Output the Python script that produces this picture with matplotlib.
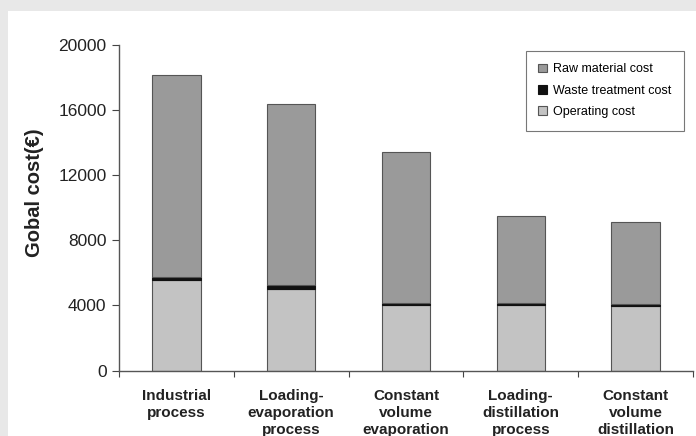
import matplotlib
matplotlib.use('Agg')
import matplotlib.pyplot as plt
from matplotlib.patches import Rectangle
import numpy as np

# Cost breakdown per process (EUR)
processes = ['Industrial\nprocess', 'Loading-\nevaporation\nprocess', 'Constant\nvolume\nevaporation',
             'Loading-\ndistillation\nprocess', 'Constant\nvolume\ndistillation']
operating_cost = [5550, 5000, 4000, 4050, 3970]
waste_cost = [200, 230, 160, 120, 110]
raw_material_cost = [12380, 11160, 9280, 5330, 5070]
y_ticks = [0, 4000, 8000, 12000, 16000, 20000]

plt.rcParams['font.family'] = ['Liberation Sans', 'DejaVu Sans']

fig = plt.figure(figsize=(6.96, 4.36), dpi=100)
fig.patch.set_facecolor('#e8e8e8')
# white panel inside the grey frame
panel = Rectangle((8 / 696, 0), 1, 1 - 11 / 436, transform=fig.transFigure,
                  facecolor='white', edgecolor='none', zorder=-10)
fig.add_artist(panel)

ax = fig.add_axes([119 / 696, 1 - 370.5 / 436, (693 - 119) / 696, (370.5 - 45) / 436])
ax.set_facecolor('white')

x = np.arange(len(processes))
width = 0.42
edge = '#555555'

operating = np.array(operating_cost)
waste = np.array(waste_cost)
raw = np.array(raw_material_cost)

ax.bar(x, operating, width, color='#c3c3c3', edgecolor=edge, linewidth=0.8, label='Operating cost')
ax.bar(x, waste, width, bottom=operating, color='#111111', edgecolor='#111111', linewidth=0.8,
       label='Waste treatment cost')
ax.bar(x, raw, width, bottom=operating + waste, color='#9a9a9a', edgecolor=edge, linewidth=0.8,
       label='Raw material cost')

ax.set_xlim(-0.5, len(processes) - 0.5)
ax.set_ylim(0, 20000)
ax.set_yticks(y_ticks)
ax.set_yticklabels([str(v) for v in y_ticks], fontsize=12.5, color='#222222')

# category labels placed between boundary ticks
ax.set_xticks(np.arange(-0.5, len(processes)))
ax.set_xticklabels([])
ax.set_xticks(x, minor=True)
ax.set_xticklabels(processes, minor=True, fontsize=11, fontweight='bold', color='#222222',
                   linespacing=1.3, va='top')
ax.tick_params(axis='x', which='minor', length=0, pad=13)
ax.tick_params(axis='x', which='major', length=4, color='#444444', direction='out')
ax.tick_params(axis='y', length=5, color='#444444', pad=4)

for side in ['top', 'right']:
    ax.spines[side].set_visible(False)
for side in ['left', 'bottom']:
    ax.spines[side].set_color('#555555')
    ax.spines[side].set_linewidth(1.0)

ax.set_ylabel('Gobal cost(€)', fontsize=14.5, fontweight='bold', color='#222222')
ax.yaxis.set_label_coords(-0.13, 0.545)

handles, labels = ax.get_legend_handles_labels()
leg = ax.legend(handles[::-1], labels[::-1], loc='upper right',
                bbox_to_anchor=((684 - 119) / 574, 1 - 6 / 325.5), borderaxespad=0,
                fontsize=9, frameon=True, fancybox=False, handlelength=0.7, handleheight=0.7,
                handletextpad=0.5, labelspacing=0.75, borderpad=1.0, edgecolor='#555555')
leg.get_frame().set_linewidth(0.8)

fig.savefig('out.png', dpi=100, facecolor=fig.get_facecolor())
